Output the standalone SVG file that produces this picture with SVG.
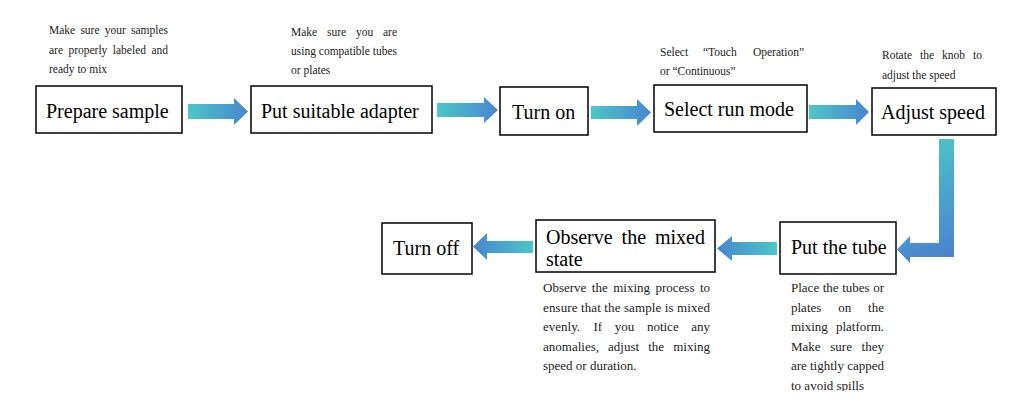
<svg xmlns="http://www.w3.org/2000/svg" width="1024" height="414" viewBox="0 0 1024 414">
<style>
.box{fill:#fff;stroke:#000;stroke-width:1.5}
.lbl{font-family:"Liberation Serif","Times New Roman",serif;font-size:20px;fill:#000}
.note{font-family:"Liberation Serif","Times New Roman",serif;font-size:11.5px;fill:#222}
.big{font-size:13px}
.e{text-anchor:end}
</style>
<defs>
<linearGradient id="gR" x1="0" y1="0" x2="1" y2="0"><stop offset="0" stop-color="#4CC6C8"/><stop offset="1" stop-color="#4786D0"/></linearGradient>
<linearGradient id="gL" x1="1" y1="0" x2="0" y2="0"><stop offset="0" stop-color="#4CC6C8"/><stop offset="1" stop-color="#4786D0"/></linearGradient>
<linearGradient id="gB" gradientUnits="userSpaceOnUse" x1="915" y1="140" x2="960" y2="258"><stop offset="0" stop-color="#4CC6C8"/><stop offset="1" stop-color="#4A7FD0"/></linearGradient>
<clipPath id="clipTube"><rect x="780" y="278" width="120" height="113"/></clipPath>
</defs>
<rect width="1024" height="414" fill="#fff"/>

<g id="connectors">
<path fill="url(#gR)" d="M188,104 L234,104 L234,98 L248,111.5 L234,125 L234,119 L188,119 Z"/>
<path fill="url(#gR)" d="M437,103 L484,103 L484,97 L498,110 L484,123 L484,117 L437,117 Z"/>
<path fill="url(#gR)" d="M591,106 L637,106 L637,99 L651,112.5 L637,126 L637,119 L591,119 Z"/>
<path fill="url(#gR)" d="M809,105 L856,105 L856,99 L869,112 L856,125 L856,119 L809,119 Z"/>
<path fill="url(#gB)" d="M939,139 L954,139 L954,257 L910,257 L910,263 L897,249.5 L910,236 L910,243 L939,243 Z"/>
<path fill="url(#gL)" d="M777,242 L732,242 L732,236 L717,248.5 L732,261 L732,255 L777,255 Z"/>
<path fill="url(#gL)" d="M533,241 L487,241 L487,233 L473,246.5 L487,260 L487,253 L533,253 Z"/>
</g>

<g id="prepare-sample">
<rect class="box" x="36" y="86" width="146" height="47"/>
<text class="lbl" x="46" y="118">Prepare sample</text>
<text class="note" x="49" y="34">Make</text><text class="note" x="80.4" y="34">sure</text><text class="note" x="104.8" y="34">your</text><text class="note e" x="168" y="34">samples</text>
<text class="note" x="49" y="53.5">are</text><text class="note" x="68.4" y="53.5">properly</text><text class="note" x="112.8" y="53.5">labeled</text><text class="note e" x="168" y="53.5">and</text>
<text class="note" x="49" y="73">ready to mix</text>
</g>

<g id="put-suitable-adapter">
<rect class="box" x="251" y="86" width="181" height="47"/>
<text class="lbl" x="261" y="118">Put suitable adapter</text>
<text class="note" x="291" y="36">Make</text><text class="note" x="327" y="36">sure</text><text class="note" x="356" y="36">you</text><text class="note e" x="397" y="36">are</text>
<text class="note" x="291" y="55">using compatible tubes</text>
<text class="note" x="291" y="74">or plates</text>
</g>

<g id="turn-on">
<rect class="box" x="500" y="87" width="88" height="48"/>
<text class="lbl" x="512" y="119">Turn on</text>
</g>

<g id="select-run-mode">
<rect class="box" x="654" y="85" width="153" height="47"/>
<text class="lbl" x="664" y="116">Select run mode</text>
<text class="note" x="660" y="56">Select</text><text class="note" x="703" y="56">“Touch</text><text class="note e" x="804" y="56">Operation”</text>
<text class="note" x="660" y="75">or “Continuous”</text>
</g>

<g id="adjust-speed">
<rect class="box" x="872" y="88" width="124" height="47"/>
<text class="lbl" x="881" y="119">Adjust speed</text>
<text class="note" x="882" y="59">Rotate</text><text class="note" x="920" y="59">the</text><text class="note" x="942" y="59">knob</text><text class="note e" x="982" y="59">to</text>
<text class="note" x="882" y="79">adjust the speed</text>
</g>

<g id="put-the-tube">
<rect class="box" x="780" y="222" width="116" height="52"/>
<text class="lbl" x="791" y="254">Put the tube</text>
<g clip-path="url(#clipTube)">
<text class="note big" x="791" y="292">Place</text><text class="note big" x="822.7" y="292">the</text><text class="note big" x="842.2" y="292">tubes</text><text class="note big e" x="884" y="292">or</text>
<text class="note big" x="791" y="312">plates</text><text class="note big" x="838.2" y="312">on</text><text class="note big e" x="884" y="312">the</text>
<text class="note big" x="791" y="331">mixing</text><text class="note big e" x="884" y="331">platform.</text>
<text class="note big" x="791" y="351">Make</text><text class="note big" x="830.3" y="351">sure</text><text class="note big e" x="884" y="351">they</text>
<text class="note big" x="791" y="370">are</text><text class="note big" x="810" y="370">tightly</text><text class="note big e" x="884" y="370">capped</text>
<text class="note big" x="791" y="390">to avoid spills</text>
</g>
</g>

<g id="observe-mixed-state">
<rect class="box" x="536" y="220" width="179" height="52"/>
<text class="lbl" x="546" y="244">Observe</text><text class="lbl" x="621.6" y="244">the</text><text class="lbl e" x="705" y="244">mixed</text>
<text class="lbl" x="546" y="266">state</text>
<text class="note big" x="543" y="292">Observe</text><text class="note big" x="591.8" y="292">the</text><text class="note big" x="613.2" y="292">mixing</text><text class="note big" x="655.5" y="292">process</text><text class="note big e" x="710" y="292">to</text>
<text class="note big" x="543" y="312" textLength="167" lengthAdjust="spacing">ensure that the sample is mixed</text>
<text class="note big" x="543" y="331">evenly.</text><text class="note big" x="593.5" y="331">If</text><text class="note big" x="614.8" y="331">you</text><text class="note big" x="646.9" y="331">notice</text><text class="note big e" x="710" y="331">any</text>
<text class="note big" x="543" y="351">anomalies,</text><text class="note big" x="608.1" y="351">adjust</text><text class="note big" x="648.2" y="351">the</text><text class="note big e" x="710" y="351">mixing</text>
<text class="note big" x="543" y="370">speed or duration.</text>
</g>

<g id="turn-off">
<rect class="box" x="382" y="223" width="90" height="51"/>
<text class="lbl" x="393" y="255">Turn off</text>
</g>
</svg>
